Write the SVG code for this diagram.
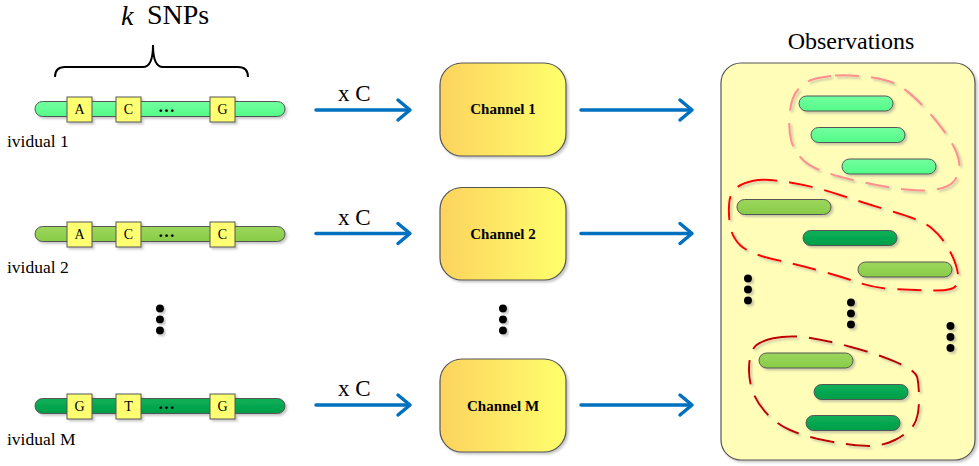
<svg xmlns="http://www.w3.org/2000/svg" width="979" height="466" viewBox="0 0 979 466">
<defs>
<style>
text{font-family:"Liberation Serif","Times New Roman",serif;fill:#000}
.bar{stroke:#555;stroke-width:1}
.snp{fill:#FFFF72;stroke:#555;stroke-width:1}
.snpt{font-size:14px;text-anchor:middle}
.lbl{font-size:17.5px}
.ch{stroke:#555;stroke-width:1.2;fill:url(#gch)}
.cht{font-size:15px;font-weight:bold;text-anchor:middle}
.xc{font-size:23px}
.arr{stroke:#0070C0;stroke-width:3.5;fill:none;stroke-linecap:round;marker-end:url(#arr)}
.dot{fill:#000}
.ob{stroke:#555;stroke-width:1}
.dash{fill:none;stroke-width:2;stroke-dasharray:24 12}
.lg{fill:url(#glg)}
.yg{fill:url(#gyg)}
.dg{fill:url(#gdg)}
</style>
<linearGradient id="gch" x1="0" y1="0" x2="1" y2="0">
<stop offset="0" stop-color="#FCD35E"/>
<stop offset="1" stop-color="#FFFF6C"/>
</linearGradient>
<linearGradient id="glg" x1="0" y1="0" x2="0" y2="1">
<stop offset="0" stop-color="#74FFA0"/>
<stop offset="1" stop-color="#52FB88"/>
</linearGradient>
<linearGradient id="gyg" x1="0" y1="0" x2="0" y2="1">
<stop offset="0" stop-color="#9CD65C"/>
<stop offset="1" stop-color="#88CC48"/>
</linearGradient>
<linearGradient id="gdg" x1="0" y1="0" x2="0" y2="1">
<stop offset="0" stop-color="#0BB058"/>
<stop offset="1" stop-color="#009E48"/>
</linearGradient>
<filter id="sh" x="-10%" y="-20%" width="130%" height="160%">
<feDropShadow dx="2" dy="2" stdDeviation="1.2" flood-color="#888" flood-opacity="0.45"/>
</filter>
<marker id="arr" markerUnits="userSpaceOnUse" markerWidth="18" markerHeight="26" viewBox="0 0 18 26" refX="13" refY="13" orient="auto">
<path d="M3,3 L15,13 L3,23" fill="none" stroke="#0070C0" stroke-width="3.5" stroke-linecap="round" stroke-linejoin="round"/>
</marker>
</defs>

<g id="title">
<text x="121" y="25" font-size="28" font-style="italic">k</text>
<text x="147" y="24" font-size="28">SNPs</text>
<path d="M55,77 Q55,67 65,67 H143 Q153,67 153,45 Q153,67 163,67 H238 Q248,67 248,77" fill="none" stroke="#000" stroke-width="2"/>
</g>

<g id="individual1" filter="url(#sh)">
<rect class="bar lg" x="35" y="101.5" width="250" height="15" rx="7.5"/>
<rect class="snp" x="67" y="97" width="25" height="25"/>
<rect class="snp" x="116" y="97" width="25" height="25"/>
<rect class="snp" x="210" y="97" width="25" height="25"/>
</g>
<g id="individual1-text">
<text class="snpt" x="79.5" y="114">A</text>
<text class="snpt" x="128.5" y="114">C</text>
<text class="snpt" x="222.5" y="114">G</text>
<text x="158" y="112" font-size="17" font-weight="bold">…</text>
<text class="lbl" x="7" y="147">ividual 1</text>
</g>

<g id="individual2" filter="url(#sh)">
<rect class="bar yg" x="35" y="226.5" width="250" height="15" rx="7.5"/>
<rect class="snp" x="67" y="222" width="25" height="25"/>
<rect class="snp" x="116" y="222" width="25" height="25"/>
<rect class="snp" x="210" y="222" width="25" height="25"/>
</g>
<g id="individual2-text">
<text class="snpt" x="79.5" y="239">A</text>
<text class="snpt" x="128.5" y="239">C</text>
<text class="snpt" x="222.5" y="239">C</text>
<text x="158" y="237" font-size="17" font-weight="bold">…</text>
<text class="lbl" x="7" y="272.5">ividual 2</text>
</g>

<g id="individualM" filter="url(#sh)">
<rect class="bar dg" x="35" y="398.5" width="250" height="15" rx="7.5"/>
<rect class="snp" x="67" y="394" width="25" height="25"/>
<rect class="snp" x="116" y="394" width="25" height="25"/>
<rect class="snp" x="210" y="394" width="25" height="25"/>
</g>
<g id="individualM-text">
<text class="snpt" x="79.5" y="411">G</text>
<text class="snpt" x="128.5" y="411">T</text>
<text class="snpt" x="222.5" y="411">G</text>
<text x="158" y="409" font-size="17" font-weight="bold">…</text>
<text class="lbl" x="7" y="445">ividual M</text>
</g>

<g id="dots-individuals" filter="url(#sh)">
<circle class="dot" cx="160" cy="308.5" r="4"/>
<circle class="dot" cx="160" cy="319.5" r="4"/>
<circle class="dot" cx="160" cy="330.5" r="4"/>
</g>

<g id="channel1">
<rect class="ch" x="440" y="63" width="126" height="93" rx="22" filter="url(#sh)"/>
<text class="cht" x="503" y="114">Channel 1</text>
</g>
<g id="channel2">
<rect class="ch" x="440" y="187.5" width="126" height="92.5" rx="22" filter="url(#sh)"/>
<text class="cht" x="503" y="239">Channel 2</text>
</g>
<g id="channelM">
<rect class="ch" x="440" y="359" width="126" height="93" rx="22" filter="url(#sh)"/>
<text class="cht" x="503" y="410.5">Channel M</text>
</g>

<g id="dots-channels" filter="url(#sh)">
<circle class="dot" cx="503" cy="308.5" r="4"/>
<circle class="dot" cx="503" cy="319.5" r="4"/>
<circle class="dot" cx="503" cy="330.5" r="4"/>
</g>

<g id="connectors">
<path class="arr" d="M316,110 H408"/>
<path class="arr" d="M581,110 H690"/>
<path class="arr" d="M316,233.5 H408"/>
<path class="arr" d="M581,233.5 H690"/>
<path class="arr" d="M316,405 H408"/>
<path class="arr" d="M581,405 H690"/>
<text class="xc" x="338" y="100.5">x C</text>
<text class="xc" x="338" y="225">x C</text>
<text class="xc" x="338" y="396">x C</text>
</g>

<g id="observations">
<text x="851" y="49" font-size="24" text-anchor="middle">Observations</text>
<rect x="721" y="63" width="254" height="397" rx="20" fill="#FFFDB8" stroke="#555" stroke-width="1.2" filter="url(#sh)"/>
<g filter="url(#sh)">
<rect class="ob lg" x="799" y="96" width="94" height="15" rx="7.5"/>
<rect class="ob lg" x="811" y="127.5" width="94" height="15" rx="7.5"/>
<rect class="ob lg" x="842" y="159" width="94" height="15" rx="7.5"/>
<rect class="ob yg" x="737" y="199.5" width="94" height="15" rx="7.5"/>
<rect class="ob dg" x="803" y="230.5" width="94" height="15" rx="7.5"/>
<rect class="ob yg" x="858" y="262" width="94" height="15" rx="7.5"/>
<rect class="ob yg" x="759" y="353" width="94" height="15" rx="7.5"/>
<rect class="ob dg" x="814" y="384.5" width="94" height="15" rx="7.5"/>
<rect class="ob dg" x="806" y="415.5" width="94" height="15" rx="7.5"/>
<circle class="dot" cx="748" cy="278.5" r="4"/>
<circle class="dot" cx="748" cy="289.5" r="4"/>
<circle class="dot" cx="748" cy="300.5" r="4"/>
<circle class="dot" cx="851" cy="302.5" r="4"/>
<circle class="dot" cx="851" cy="313.5" r="4"/>
<circle class="dot" cx="851" cy="324.5" r="4"/>
<circle class="dot" cx="950.5" cy="326" r="4"/>
<circle class="dot" cx="950.5" cy="337" r="4"/>
<circle class="dot" cx="950.5" cy="348" r="4"/>
</g>
<g filter="url(#sh)">
<path class="dash" stroke="#FF9090" d="M835,75.5 Q848.3,74.3 870,77.2 Q891.7,80 903.3,88.3 Q915,96.7 928.3,111.7 Q941.7,126.7 950,140 Q958.3,153.3 959.2,163.3 Q960,173.3 954.2,180.8 Q948.3,188.3 931.7,190 Q915,191.7 890,187.5 Q865,183.3 840,176.7 Q815,170 805,161.7 Q795,153.3 791.5,141.7 Q788,130 789.7,113.3 Q791.3,96.7 798.2,89.2 Q805,81.7 813.3,79.2 Q821.7,76.7 835,75.5 Z"/>
<path class="dash" stroke="#FF0000" d="M753.3,180.8 Q765,178.3 790,182.5 Q815,186.7 840,195 Q865,203.3 893.3,211.7 Q921.7,220 931.7,228.3 Q941.7,236.7 948.3,248.3 Q955,260 957.2,270 Q959.5,280 956.2,285.5 Q953,291 934,290.5 Q915,290 895,289.2 Q875,288.3 858.3,282.5 Q841.7,276.7 820,270.8 Q798.3,265 773.3,259.2 Q748.3,253.3 740,245 Q731.7,236.7 730,225 Q728.3,213.3 729.2,203.3 Q730,193.3 735.8,188.3 Q741.7,183.3 753.3,180.8 Z"/>
<path class="dash" stroke="#C00000" d="M773.3,338.3 Q788.3,335 806.7,337.5 Q825,340 850,346.7 Q875,353.3 895,361.7 Q915,370 917,376.7 Q919,383.3 919,400 Q919,416.7 913.7,425 Q908.3,433.3 895,440 Q881.7,446.7 865,445.8 Q848.3,445 826.7,440.8 Q805,436.7 790,430 Q775,423.3 765,411.7 Q755,400 751.7,388.3 Q748.3,376.7 749.2,365 Q750,353.3 754.2,347.5 Q758.3,341.7 773.3,338.3 Z"/>
</g>
</g>
</svg>
